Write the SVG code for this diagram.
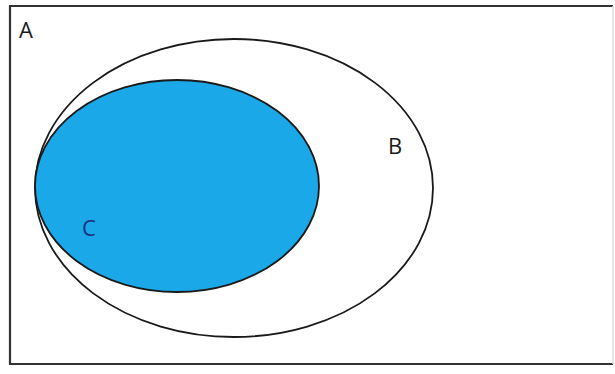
<svg xmlns="http://www.w3.org/2000/svg" width="615" height="374" viewBox="0 0 615 374">
<style>
.lbl{font-family:"Open Sans","Liberation Sans",sans-serif;font-size:22px;}
.set{stroke:#1a1a1a;stroke-width:1.8;}
</style>
<rect width="615" height="374" fill="#ffffff"/>
<g id="A">
<path d="M613,6 H10 V364 H613" fill="none" stroke="#333333" stroke-width="2.2"/>
<line x1="613" y1="6" x2="613" y2="364" stroke="#dddddd" stroke-width="1.5"/>
<text class="lbl" x="19" y="38" fill="#1a1a1a">A</text>
</g>
<g id="B">
<ellipse class="set" cx="234" cy="188" rx="199" ry="149" fill="#ffffff"/>
<text class="lbl" x="388" y="154" fill="#1a1a1a">B</text>
</g>
<g id="C">
<ellipse class="set" cx="177" cy="186" rx="142" ry="106" fill="#1aa8e8" stroke="#14285a"/>
<text class="lbl" x="82" y="236" fill="#16307a">C</text>
</g>
<g id="connectors"></g>
</svg>
